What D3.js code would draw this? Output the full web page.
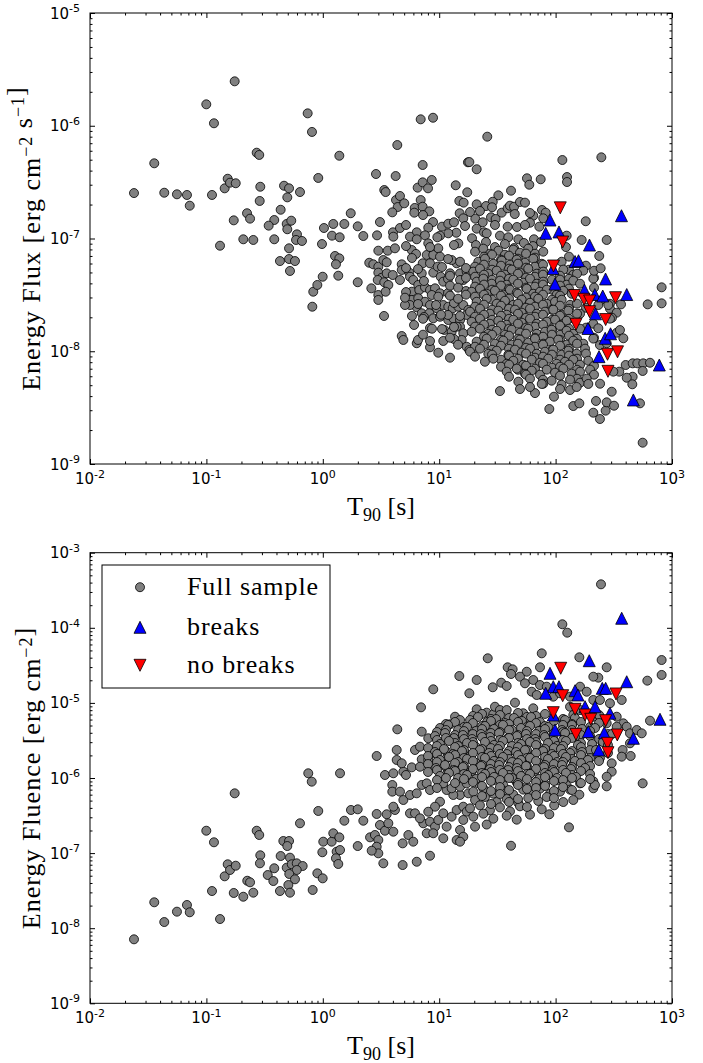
<!DOCTYPE html>
<html>
<head>
<meta charset="utf-8">
<script src="https://cdn.jsdelivr.net/npm/d3@7"></script>
<style>
  body { margin: 0; background: #fff; }
  svg { display: block; }
</style>
</head>
<body>
<svg id="chart" width="703" height="1063"></svg>
<script>
// Each point is [log10 T90 (s), log10 value].
// Energy flux (erg cm^-2 s^-1) of the full sample.
const fluxSampleLog = [
  [-1.622,-6.597],[-1.448,-6.333],[-1.362,-6.594],[-1.253,-6.608],[-1.167,-6.614],[-1.143,-6.709],[-1.001,-5.810],[-0.935,-5.978],[-0.952,-6.614],[-0.843,-6.555],[-0.817,-6.470],[-0.797,-6.505],[-0.748,-6.510],[-0.757,-5.606],[-0.765,-6.839],[-0.883,-7.064],[-0.568,-6.239],[-0.546,-6.259],[-0.537,-6.541],[-0.333,-6.532],[-0.290,-6.555],[-0.196,-6.588],[-0.305,-6.635],[-0.542,-6.667],[-0.651,-6.776],[-0.625,-6.824],[-0.362,-6.745],[-0.417,-6.836],[-0.465,-6.886],[-0.310,-6.871],[-0.271,-6.842],[-0.305,-6.918],[-0.222,-6.963],[-0.683,-7.007],[-0.597,-7.013],[-0.417,-7.007],[-0.230,-7.013],[-0.179,-7.022],[-0.368,-7.200],[-0.290,-7.182],[-0.239,-7.200],[-0.282,-7.288],[-0.290,-7.087],[-0.090,-7.605],[-0.082,-7.472],[-0.047,-7.412],[-0.130,-5.890],[-0.093,-6.055],[-0.039,-6.463],
  [0.142,-6.266],[0.640,-6.171],[0.457,-6.428],[0.626,-6.446],[0.010,-6.907],[0.090,-6.871],[0.185,-6.871],[0.240,-6.776],[0.300,-6.892],[0.079,-6.975],[0.145,-6.989],[0.348,-6.978],[0.466,-6.972],[0.528,-6.570],[0.540,-6.588],[0.629,-6.659],[0.663,-6.623],[0.643,-6.721],[0.597,-6.768],[0.603,-6.945],[0.606,-6.984],[-0.007,-7.049],[0.105,-7.155],[0.142,-7.176],[0.113,-7.229],[0.133,-7.330],[-0.001,-7.339],[0.300,-7.388],[0.417,-7.442],[0.399,-7.215],[0.434,-7.229],[0.477,-7.250],[0.520,-7.191],[0.549,-7.211],[0.477,-7.108],[0.558,-7.108],[0.620,-7.087],[0.477,-7.303],[0.506,-7.348],[0.549,-7.309],[0.601,-7.324],[0.472,-7.368],[0.528,-7.388],[0.563,-7.412],[0.477,-7.501],[0.477,-7.545],[0.540,-7.472],[0.526,-7.687],[0.700,-6.688],[0.491,-6.854],
  [0.841,-5.943],[0.947,-5.929],[0.858,-6.348],[1.247,-6.324],[0.663,-6.907],[0.715,-6.880],[0.815,-6.549],[0.858,-6.502],[0.904,-6.555],[0.936,-6.481],[0.841,-6.659],[0.790,-6.729],[0.858,-6.718],[0.915,-6.759],[0.861,-6.792],[0.786,-6.771],[0.947,-6.854],[0.906,-6.904],[0.807,-6.945],[0.878,-6.972],[1.024,-6.895],[1.078,-6.869],[1.127,-6.856],[1.176,-6.776],[1.207,-6.821],[1.147,-6.949],[1.078,-6.954],[1.007,-6.975],[1.142,-6.528],[1.241,-6.590],[1.173,-6.667],[1.210,-6.682],[0.678,-7.229],[0.678,-7.279],[0.743,-7.303],[0.749,-7.339],[0.777,-7.368],[0.820,-7.412],[0.850,-7.309],[0.858,-7.220],[0.749,-6.984],[0.807,-7.007],[0.906,-7.043],[0.984,-6.989],[0.764,-7.102],[0.801,-7.137],[0.893,-7.146],[0.949,-7.146],[0.992,-7.087],[1.007,-7.161],[0.921,-7.220],[0.949,-7.303],[0.987,-7.250],[1.013,-7.339],[1.035,-7.383],[1.093,-7.309],[1.150,-7.220],[1.107,-7.191],[1.179,-7.206],[1.179,-7.309],[1.207,-7.368],[1.236,-7.294],[1.164,-7.043],[0.764,-7.472],[0.829,-7.457],[0.878,-7.433],[0.921,-7.457],[0.964,-7.442],[1.007,-7.486],[0.936,-7.501],[0.992,-7.516],[0.764,-7.545],[0.820,-7.530],[0.878,-7.561],[0.807,-7.610],[0.749,-7.590],[0.850,-7.663],[0.921,-7.590],[0.979,-7.619],[1.035,-7.590],[1.078,-7.605],[1.116,-7.619],[1.164,-7.605],[1.207,-7.590],[1.250,-7.634],[0.706,-7.590],[0.915,-7.663],[0.949,-7.708],[1.007,-7.694],[1.078,-7.723],[1.121,-7.708],[1.179,-7.723],[1.236,-7.678],[0.784,-7.767],[0.678,-7.865],[0.692,-7.900],[0.807,-7.929],[0.921,-7.965],[0.992,-8.013],[1.044,-7.811],[1.035,-7.909],[1.107,-7.827],[1.179,-7.782],[1.207,-7.841],[1.193,-7.900],[1.236,-7.960],[1.259,-7.989],[1.150,-7.782],
  [0.715,-7.067],[0.921,-7.076],[1.127,-7.058],[0.766,-7.173],[1.076,-7.182],[0.715,-7.262],[0.818,-7.271],[1.024,-7.253],[1.230,-7.262],[0.663,-7.368],[0.869,-7.377],[1.076,-7.359],[1.179,-7.368],[0.715,-7.475],[1.076,-7.484],[1.230,-7.466],[0.818,-7.581],[0.973,-7.590],[1.127,-7.572],[0.766,-7.687],[0.869,-7.696],[1.076,-7.678],[1.179,-7.687],[0.921,-7.794],[1.024,-7.803],[1.127,-7.785],[0.818,-7.900],[0.921,-7.909],[1.127,-7.891],
  [1.413,-6.097],[1.259,-6.322],[1.322,-6.386],[2.058,-6.304],[2.393,-6.280],[1.754,-6.466],[1.774,-6.523],[1.872,-6.475],[2.098,-6.455],[2.098,-6.499],[1.617,-6.576],[1.508,-6.617],[1.322,-6.697],[1.460,-6.674],[1.402,-6.712],[1.454,-6.723],[1.537,-6.771],[1.588,-6.732],[1.608,-6.709],[1.643,-6.718],[1.694,-6.676],[1.737,-6.682],[1.649,-6.783],[1.310,-6.824],[1.374,-6.856],[1.445,-6.812],[1.485,-6.827],[1.322,-6.913],[1.385,-6.945],[1.588,-6.895],[1.522,-6.975],[1.408,-6.954],[1.282,-6.998],[1.594,-6.989],[1.680,-7.007],[1.808,-6.798],[1.780,-6.860],[1.860,-6.895],[1.883,-6.747],[1.915,-6.771],[1.894,-6.821],[1.814,-7.007],[2.259,-6.847],[2.095,-6.975],[2.224,-7.013],[2.439,-7.013],
  [1.265,-6.765],[1.350,-6.756],[1.780,-6.774],[1.222,-6.889],[1.479,-6.880],[1.668,-6.898],[1.737,-6.880],
  [1.316,-7.058],[1.402,-7.031],[1.479,-7.076],[1.565,-7.049],[1.643,-7.085],[1.728,-7.040],[1.806,-7.067],[1.875,-7.031],[2.089,-7.076],
  [1.308,-7.117],[1.379,-7.090],[1.436,-7.135],[1.508,-7.108],[1.565,-7.144],[1.637,-7.099],[1.694,-7.126],[1.765,-7.090],[1.823,-7.135],[1.894,-7.117],
  [1.385,-7.161],[1.454,-7.143],[1.531,-7.188],[1.600,-7.152],[1.677,-7.179],[1.746,-7.134],[1.823,-7.170],[2.115,-7.161],
  [1.336,-7.206],[1.393,-7.179],[1.465,-7.224],[1.537,-7.197],[1.608,-7.233],[1.666,-7.188],[1.737,-7.215],[1.808,-7.179],[1.881,-7.224],[2.052,-7.206],
  [1.308,-7.250],[1.385,-7.232],[1.454,-7.277],[1.531,-7.241],[1.600,-7.268],[1.677,-7.223],[1.746,-7.259],[1.823,-7.250],[1.892,-7.232],[2.115,-7.277],[2.261,-7.241],
  [1.293,-7.294],[1.350,-7.267],[1.422,-7.312],[1.494,-7.285],[1.565,-7.321],[1.623,-7.276],[1.694,-7.303],[1.765,-7.267],[1.838,-7.312],[1.894,-7.294],[2.066,-7.276],[2.152,-7.321],[2.238,-7.285],
  [1.308,-7.339],[1.385,-7.321],[1.454,-7.366],[1.531,-7.330],[1.600,-7.357],[1.677,-7.312],[1.746,-7.348],[1.823,-7.339],[1.892,-7.321],[1.969,-7.366],[2.038,-7.330],[2.115,-7.357],[2.184,-7.312],[2.330,-7.348],[1.093,-7.330],[1.230,-7.348],
  [1.322,-7.383],[1.379,-7.356],[1.451,-7.401],[1.522,-7.374],[1.580,-7.410],[1.637,-7.365],[1.722,-7.392],[1.780,-7.356],[1.838,-7.401],[1.894,-7.383],[2.038,-7.365],[2.095,-7.410],[2.152,-7.374],[2.210,-7.401],[2.324,-7.356],
  [1.308,-7.427],[1.385,-7.409],[1.454,-7.454],[1.531,-7.418],[1.600,-7.445],[1.677,-7.400],[1.746,-7.436],[1.823,-7.427],[1.892,-7.409],[1.969,-7.454],[2.038,-7.418],[2.115,-7.445],[2.330,-7.436],[1.093,-7.418],[1.162,-7.436],
  [1.279,-7.472],[1.350,-7.445],[1.408,-7.490],[1.479,-7.463],[1.551,-7.499],[1.608,-7.454],[1.666,-7.481],[1.752,-7.445],[1.808,-7.490],[1.866,-7.472],[1.924,-7.454],[2.009,-7.499],[2.066,-7.463],[2.138,-7.490],
  [1.308,-7.516],[1.385,-7.498],[1.454,-7.543],[1.531,-7.507],[1.600,-7.534],[1.677,-7.489],[1.746,-7.525],[1.823,-7.516],[1.892,-7.498],[1.969,-7.543],[2.038,-7.507],[0.706,-7.525],[1.093,-7.507],[1.162,-7.534],[1.230,-7.498],
  [1.322,-7.561],[1.408,-7.534],[1.494,-7.579],[1.565,-7.552],[1.637,-7.588],[1.709,-7.543],[1.780,-7.570],[1.851,-7.534],[1.924,-7.579],[1.995,-7.561],[2.052,-7.543],[2.124,-7.588],[2.382,-7.552],[2.467,-7.579],
  [1.308,-7.605],[1.385,-7.587],[1.454,-7.632],[1.531,-7.596],[1.600,-7.623],[1.677,-7.578],[1.746,-7.614],[1.823,-7.605],[1.892,-7.587],[1.969,-7.632],[2.038,-7.596],[2.115,-7.623],[2.184,-7.578],[2.261,-7.614],
  [1.265,-7.649],[1.350,-7.622],[1.436,-7.667],[1.508,-7.640],[1.580,-7.676],[1.651,-7.631],[1.709,-7.658],[1.780,-7.622],[1.838,-7.667],[1.909,-7.649],[1.980,-7.631],[2.052,-7.676],[2.109,-7.640],[2.210,-7.667],[2.467,-7.622],[2.525,-7.658],
  [1.308,-7.694],[1.385,-7.676],[1.454,-7.721],[1.531,-7.685],[1.600,-7.712],[1.677,-7.667],[1.746,-7.703],[1.823,-7.694],[1.892,-7.676],[1.969,-7.721],[2.038,-7.685],[2.115,-7.712],[2.184,-7.667],[2.484,-7.703],[0.861,-7.712],[1.015,-7.676],
  [1.279,-7.738],[1.350,-7.711],[1.436,-7.756],[1.508,-7.729],[1.580,-7.765],[1.637,-7.720],[1.709,-7.747],[1.780,-7.711],[1.838,-7.756],[1.924,-7.738],[1.995,-7.720],[2.052,-7.765],[2.095,-7.729],[2.324,-7.756],[2.467,-7.711],
  [1.308,-7.782],[1.385,-7.764],[1.454,-7.809],[1.531,-7.773],[1.600,-7.800],[1.677,-7.755],[1.746,-7.791],[1.823,-7.782],[1.892,-7.764],[1.969,-7.809],[2.038,-7.773],[2.115,-7.800],[2.261,-7.791],[0.938,-7.800],
  [1.279,-7.827],[1.350,-7.800],[1.422,-7.845],[1.494,-7.818],[1.565,-7.854],[1.623,-7.809],[1.694,-7.836],[1.765,-7.800],[1.838,-7.845],[1.909,-7.827],[1.966,-7.809],[2.038,-7.854],[2.095,-7.818],[2.152,-7.845],[2.210,-7.800],[2.525,-7.836],
  [1.385,-7.871],[1.454,-7.853],[1.531,-7.898],[1.600,-7.862],[1.677,-7.889],[1.746,-7.844],[1.823,-7.880],[1.892,-7.871],[1.969,-7.853],[2.038,-7.898],[2.115,-7.862],[2.184,-7.889],[2.330,-7.880],[0.861,-7.853],[1.093,-7.880],
  [1.322,-7.915],[1.408,-7.888],[1.479,-7.933],[1.551,-7.906],[1.623,-7.942],[1.694,-7.897],[1.765,-7.924],[1.823,-7.888],[1.894,-7.933],[1.952,-7.915],[2.023,-7.897],[2.095,-7.942],[2.152,-7.906],[2.238,-7.933],[2.324,-7.888],
  [1.308,-7.960],[1.385,-7.942],[1.454,-7.987],[1.531,-7.951],[1.600,-7.978],[1.677,-7.933],[1.746,-7.969],[1.823,-7.960],[1.892,-7.942],[1.969,-7.987],[2.038,-7.951],[2.115,-7.978],[2.184,-7.933],[1.162,-7.942],
  [1.265,-8.004],[1.350,-7.977],[1.422,-8.022],[1.494,-7.995],[1.594,-8.031],[1.651,-7.986],[1.709,-8.013],[1.780,-7.977],[1.838,-8.022],[1.909,-8.004],[1.980,-7.986],[2.052,-8.031],[2.109,-7.995],[2.181,-8.022],[2.253,-7.977],
  [1.308,-8.048],[1.454,-8.030],[1.531,-8.075],[1.600,-8.039],[1.677,-8.066],[1.746,-8.021],[1.823,-8.057],[1.892,-8.048],[1.969,-8.030],[2.038,-8.075],[2.115,-8.039],[2.184,-8.066],[2.261,-8.021],[1.093,-8.057],
  [1.393,-8.093],[1.465,-8.066],[1.580,-8.111],[1.637,-8.084],[1.722,-8.120],[1.795,-8.075],[1.866,-8.102],[1.937,-8.066],[2.009,-8.111],[2.081,-8.093],[2.152,-8.075],[2.210,-8.120],[2.281,-8.084],
  [1.531,-8.137],[1.600,-8.119],[1.677,-8.164],[1.746,-8.128],[1.823,-8.155],[1.892,-8.110],[1.969,-8.146],[2.038,-8.137],[2.115,-8.119],[2.184,-8.164],[2.330,-8.128],
  [1.580,-8.181],[1.666,-8.154],[1.737,-8.199],[1.795,-8.172],[1.866,-8.208],[1.924,-8.163],[1.995,-8.190],[2.066,-8.154],[2.138,-8.199],[2.210,-8.181],[2.296,-8.163],
  [1.600,-8.226],[1.746,-8.208],[1.892,-8.253],[2.038,-8.217],[2.184,-8.244],[2.330,-8.208],
  [1.680,-8.270],[1.780,-8.243],[1.894,-8.288],[1.966,-8.261],[2.052,-8.297],[2.124,-8.252],[2.210,-8.279],[2.267,-8.243],[2.382,-8.288],
  [1.522,-8.353],[1.694,-8.335],[1.823,-8.371],
  [2.375,-7.155],[2.330,-7.286],[2.387,-7.264],[2.562,-7.584],[2.553,-7.812],[2.582,-7.885],[2.791,-7.584],[2.911,-7.575],[2.911,-7.433],[2.367,-7.796],[2.453,-7.590],[2.367,-7.590],[2.381,-7.945],[2.439,-7.929],[2.662,-8.226],[2.611,-8.235],[2.547,-8.181],[2.602,-8.122],[2.662,-8.107],[2.702,-8.107],[2.753,-8.107],[2.811,-8.102],[2.748,-8.175],[2.496,-8.181],[2.748,-8.811],[1.946,-8.512],[1.986,-8.403],[2.152,-8.486],[2.204,-8.462],[2.324,-8.545],[2.381,-8.601],[2.430,-8.527],[2.347,-8.441],[2.439,-8.453],[2.502,-8.483],[2.482,-8.359],[2.659,-8.293],[2.725,-8.462],[2.038,-8.335],[2.124,-8.344],[1.881,-8.290],[1.780,-8.317],[2.181,-8.317],[2.281,-8.290]
];
// Energy flux of the bursts whose light curves show breaks.
const fluxBreaksLog = [
  [1.952,-6.836],[1.915,-6.954],[2.029,-6.942],[2.566,-6.798],[2.291,-7.058],[2.167,-7.204],[2.197,-7.197],[1.978,-7.266],[1.995,-7.404],[2.429,-7.359],[2.248,-7.457],[2.337,-7.497],[2.405,-7.510],[2.611,-7.497],[2.343,-7.668],[2.278,-7.798],[2.426,-7.885],[2.472,-7.845],[2.373,-8.048],[2.891,-8.122],[2.668,-8.432]
];
// Energy flux of the bursts without breaks.
const fluxNoBreaksLog = [
  [2.040,-6.728],[2.061,-7.031],[1.982,-7.244],[2.162,-7.506],[2.244,-7.539],[2.292,-7.554],[2.515,-7.525],[2.292,-7.649],[2.430,-7.719],[2.175,-7.761],[2.446,-8.027],[2.532,-8.005],[2.450,-8.178]
];

// Energy fluence (erg cm^-2) of the full sample.
const fluenceSampleLog = [
  [-1.622,-8.148],[-1.448,-7.655],[-1.362,-7.918],[-1.253,-7.780],[-1.167,-7.691],[-1.143,-7.788],[-1.001,-6.702],[-0.935,-6.856],[-0.952,-7.505],[-0.883,-7.878],[-0.843,-7.309],[-0.817,-7.149],[-0.797,-7.225],[-0.748,-7.168],[-0.757,-6.204],[-0.765,-7.531],
  [-0.095,-6.049],[-0.039,-6.439],[-0.196,-6.603],[-0.568,-6.702],[-0.546,-6.759],[-0.537,-7.029],[-0.540,-7.136],[-0.339,-6.839],[-0.290,-6.839],[-0.305,-6.906],[-0.362,-7.039],[-0.282,-7.061],[-0.417,-7.202],[-0.473,-7.292],[-0.425,-7.372],[-0.310,-7.194],[-0.267,-7.149],[-0.224,-7.136],[-0.173,-7.172],[-0.224,-7.225],[-0.288,-7.278],[-0.239,-7.349],[-0.296,-7.425],[-0.368,-7.505],[-0.282,-7.527],[-0.649,-7.368],[-0.625,-7.389],[-0.683,-7.581],[-0.597,-7.527],[-0.087,-7.491],[-0.047,-7.269],[-0.001,-7.336],[-0.004,-6.989],[0.004,-6.848],[0.076,-6.848],[0.090,-6.736],[0.142,-6.790],[0.119,-6.981],[0.148,-6.959],[0.113,-7.069],[0.133,-7.145],[0.185,-6.569],[0.242,-6.426],[0.300,-6.417],[0.348,-6.569],[0.300,-6.906],[0.406,-6.790],[0.448,-6.759],[0.477,-6.826],[0.463,-6.915],[0.477,-7.003],[0.420,-6.968],[0.520,-7.136],[0.463,-6.479],[0.549,-6.483],[0.491,-6.626],[0.534,-6.702],[0.606,-6.715],[0.563,-6.603],[0.620,-6.426],[0.606,-6.382],[0.597,-6.093],[0.597,-6.182],[0.663,-6.182],[0.692,-6.293],[0.749,-6.226],[0.807,-6.204],[0.850,-6.093],[0.893,-6.071],[0.921,-6.160],[0.686,-6.870],[0.686,-7.159],[0.749,-6.470],[0.792,-6.470],[0.735,-6.759],[0.777,-6.848],[0.807,-7.115],[0.921,-7.035],[0.863,-6.603],[0.921,-6.582],[0.964,-6.648],[0.992,-6.559],[1.035,-6.470],[1.007,-6.316],[0.964,-6.382],[0.906,-6.449],[0.835,-6.537],[0.893,-6.736],[0.949,-6.736],[1.035,-6.803],[1.064,-6.648],[1.107,-6.515],[1.150,-6.426],[1.207,-6.382],[1.179,-6.226],[1.121,-6.226],[1.064,-6.160],[1.035,-6.071],[1.107,-6.137],[1.179,-6.116],[1.236,-6.071],[1.250,-6.204],[1.236,-6.449],[1.207,-6.559],[1.179,-6.692],[1.150,-6.826],[1.207,-6.782],
  [1.336,-6.071],[1.465,-6.031],[1.551,-6.098],[1.666,-6.058],[1.752,-6.111],[1.838,-6.044],[1.909,-6.084],[2.009,-6.031],[2.095,-6.098],[2.210,-6.071],[2.324,-6.044],[2.439,-6.111],
  [1.293,-6.182],[1.379,-6.142],[1.465,-6.209],[1.551,-6.169],[1.637,-6.222],[1.722,-6.155],[1.795,-6.195],[1.866,-6.142],[1.952,-6.209],[2.038,-6.182],[2.124,-6.155],[2.204,-6.222],
  [1.308,-6.293],[1.393,-6.253],[1.494,-6.320],[1.580,-6.280],[1.680,-6.333],[1.765,-6.266],[1.851,-6.306],[1.924,-6.253],[2.066,-6.320],[2.152,-6.293],
  [1.265,-6.404],[1.350,-6.364],[1.436,-6.431],[1.522,-6.391],[1.608,-6.444],[1.694,-6.377],[1.881,-6.417],[1.988,-6.364],
  [1.293,-6.515],[1.379,-6.475],[1.465,-6.542],[1.580,-6.502],[1.666,-6.555],[1.780,-6.488],
  [1.308,-6.648],[1.408,-6.620],[1.179,-6.848],[1.617,-6.902],[2.115,-6.657],[2.748,-6.071],[1.946,-6.483],[2.324,-6.137],
  [2.390,-3.421],[2.058,-3.953],[2.100,-4.065],[1.881,-4.340],[2.204,-4.393],[1.417,-4.406],[2.439,-4.526],[2.911,-4.429],[2.911,-4.628],[2.788,-4.704],[2.367,-4.664],[2.568,-4.961],[2.811,-5.237],[0.949,-4.819],[1.173,-4.642],[1.322,-4.695],[1.259,-4.872],[1.460,-4.792],[1.533,-4.731],[1.580,-4.775],[1.588,-4.526],[1.631,-4.553],[1.617,-4.615],[1.752,-4.585],[1.694,-4.651],[1.737,-4.739],[1.866,-4.526],[1.808,-4.695],[1.866,-4.762],[1.795,-4.851],[1.838,-4.895],[0.844,-5.059],[1.322,-5.085],[1.408,-5.130],[1.465,-5.152],[1.479,-5.051],[1.522,-5.095],[1.580,-5.095],[1.651,-4.997],[1.722,-5.138],[1.808,-5.072],[0.640,-5.352],[1.136,-5.184],[1.179,-5.228],[1.093,-5.285],[0.850,-5.383],[0.906,-5.471],[0.792,-5.627],[0.835,-5.583],[0.635,-5.627],[0.463,-5.707],[0.148,-5.937],[0.534,-5.960],[0.606,-5.937],[0.692,-5.916],[0.635,-5.760],[0.678,-5.804],[0.715,-5.960],[0.764,-5.858],[0.850,-5.751],[0.906,-5.760],[0.949,-5.671],[0.835,-5.850],[-0.125,-5.937],
  [1.924,-4.784],[1.980,-4.917],[2.038,-4.872],[2.124,-4.917],[2.210,-4.784],[2.324,-4.651],[2.267,-4.851],[2.324,-4.961],[2.381,-4.961],[2.467,-5.005],[2.525,-5.184],[2.582,-5.272],[2.124,-5.051],[2.152,-5.161],[2.210,-5.095],[2.324,-5.184],[2.381,-5.184],[2.439,-5.272],[2.525,-5.317],[2.611,-5.317],[2.639,-5.405],[2.697,-5.361],[2.740,-5.405],[2.639,-5.538],[2.576,-5.627],[2.568,-5.716],[2.645,-5.707],[2.482,-5.804],[2.482,-5.916],[2.439,-5.983],[2.338,-6.093],
  [1.290,-5.174],[1.368,-5.147],[1.445,-5.214],[1.522,-5.161],[1.600,-5.201],[1.677,-5.134],[1.754,-5.187],[1.832,-5.174],[1.909,-5.147],[2.064,-5.214],[2.373,-5.161],
  [1.265,-5.228],[1.333,-5.188],[1.411,-5.255],[1.488,-5.215],[1.565,-5.268],[1.643,-5.201],[1.711,-5.241],[1.789,-5.188],[1.866,-5.255],[2.081,-5.228],[2.166,-5.201],
  [1.058,-5.281],[1.136,-5.254],[1.213,-5.321],[1.290,-5.268],[1.368,-5.308],[1.445,-5.241],[1.522,-5.294],[1.600,-5.281],[1.677,-5.254],[1.754,-5.321],[1.832,-5.268],[1.909,-5.308],[1.986,-5.241],[2.064,-5.294],[2.141,-5.281],[2.218,-5.254],[2.296,-5.321],[2.373,-5.268],
  [1.007,-5.334],[1.076,-5.294],[1.162,-5.361],[1.239,-5.321],[1.316,-5.374],[1.393,-5.307],[1.471,-5.347],[1.548,-5.294],[1.625,-5.361],[1.703,-5.334],[1.780,-5.307],[1.857,-5.374],[1.935,-5.321],[2.055,-5.361],[2.141,-5.294],[2.227,-5.347],[2.339,-5.334],
  [0.981,-5.388],[1.058,-5.361],[1.136,-5.428],[1.213,-5.375],[1.290,-5.415],[1.368,-5.348],[1.445,-5.401],[1.522,-5.388],[1.600,-5.361],[1.677,-5.428],[1.754,-5.375],[1.832,-5.415],[1.909,-5.348],[1.986,-5.401],[2.064,-5.388],[2.141,-5.361],[2.218,-5.428],[2.296,-5.375],[2.450,-5.415],
  [0.964,-5.441],[1.050,-5.401],[1.127,-5.468],[1.204,-5.428],[1.282,-5.481],[1.359,-5.414],[1.436,-5.454],[1.514,-5.401],[1.591,-5.468],[1.668,-5.441],[1.746,-5.414],[1.823,-5.481],[1.900,-5.428],[1.978,-5.468],[2.081,-5.401],[2.166,-5.454],[2.296,-5.441],[2.484,-5.414],
  [0.981,-5.494],[1.058,-5.467],[1.136,-5.534],[1.213,-5.481],[1.290,-5.521],[1.368,-5.454],[1.445,-5.507],[1.522,-5.494],[1.600,-5.467],[1.677,-5.534],[1.754,-5.481],[1.832,-5.521],[1.909,-5.454],[1.986,-5.507],[2.064,-5.494],[2.141,-5.467],[2.218,-5.534],[2.373,-5.481],
  [1.007,-5.547],[1.084,-5.507],[1.162,-5.574],[1.239,-5.534],[1.316,-5.587],[1.393,-5.520],[1.471,-5.560],[1.548,-5.507],[1.625,-5.574],[1.703,-5.547],[1.780,-5.520],[1.857,-5.587],[1.935,-5.534],[2.012,-5.574],[2.089,-5.507],[2.192,-5.560],[2.313,-5.547],[2.407,-5.520],
  [0.904,-5.601],[0.981,-5.574],[1.058,-5.641],[1.136,-5.588],[1.213,-5.628],[1.290,-5.561],[1.368,-5.614],[1.445,-5.601],[1.522,-5.574],[1.600,-5.641],[1.677,-5.588],[1.754,-5.628],[1.832,-5.561],[1.909,-5.614],[1.986,-5.601],[2.064,-5.574],[2.141,-5.641],[2.218,-5.588],[2.296,-5.628],[2.450,-5.561],
  [0.964,-5.654],[1.041,-5.614],[1.119,-5.681],[1.196,-5.641],[1.273,-5.694],[1.350,-5.627],[1.428,-5.667],[1.505,-5.614],[1.582,-5.681],[1.660,-5.654],[1.737,-5.627],[1.814,-5.694],[1.892,-5.641],[1.969,-5.681],[2.046,-5.614],[2.124,-5.667],[2.227,-5.654],[2.347,-5.627],
  [0.904,-5.707],[0.981,-5.680],[1.058,-5.747],[1.136,-5.694],[1.213,-5.734],[1.290,-5.667],[1.368,-5.720],[1.445,-5.707],[1.522,-5.680],[1.600,-5.747],[1.677,-5.694],[1.754,-5.734],[1.832,-5.667],[1.909,-5.720],[1.986,-5.707],[2.064,-5.680],[2.141,-5.747],[2.218,-5.694],[2.296,-5.734],[2.450,-5.667],
  [1.007,-5.760],[1.084,-5.720],[1.162,-5.787],[1.239,-5.747],[1.316,-5.800],[1.393,-5.733],[1.471,-5.773],[1.548,-5.720],[1.625,-5.787],[1.703,-5.760],[1.780,-5.733],[1.857,-5.800],[1.935,-5.747],[2.012,-5.787],[2.089,-5.720],[2.166,-5.773],[2.278,-5.760],[2.381,-5.733],
  [0.904,-5.814],[0.981,-5.787],[1.058,-5.854],[1.136,-5.801],[1.213,-5.841],[1.290,-5.774],[1.368,-5.827],[1.445,-5.814],[1.522,-5.787],[1.600,-5.854],[1.677,-5.801],[1.754,-5.841],[1.832,-5.774],[1.909,-5.827],[1.986,-5.814],[2.064,-5.787],[2.141,-5.854],[2.218,-5.801],[2.296,-5.841],[2.373,-5.774],
  [0.973,-5.867],[1.050,-5.827],[1.127,-5.894],[1.204,-5.854],[1.282,-5.907],[1.359,-5.840],[1.436,-5.880],[1.514,-5.827],[1.591,-5.894],[1.668,-5.867],[1.746,-5.840],[1.823,-5.907],[1.900,-5.854],[1.978,-5.894],[2.055,-5.827],[2.132,-5.880],[2.253,-5.867],
  [0.904,-5.920],[0.981,-5.893],[1.058,-5.960],[1.136,-5.907],[1.213,-5.947],[1.290,-5.880],[1.368,-5.933],[1.445,-5.920],[1.522,-5.893],[1.600,-5.960],[1.677,-5.907],[1.754,-5.947],[1.832,-5.880],[1.909,-5.933],[1.986,-5.920],[2.064,-5.893],[2.141,-5.960],[2.218,-5.907],[2.296,-5.947],
  [1.007,-5.973],[1.084,-5.933],[1.162,-6.000],[1.239,-5.960],[1.316,-6.013],[1.393,-5.946],[1.471,-5.986],[1.548,-5.933],[1.625,-6.000],[1.703,-5.973],[1.780,-5.946],[1.857,-6.013],[1.935,-5.960],[2.012,-6.000],[2.089,-5.933],[2.175,-5.986],
  [0.981,-6.027],[1.058,-6.000],[1.136,-6.067],[1.213,-6.014],[1.290,-6.054],[1.368,-5.987],[1.445,-6.040],[1.522,-6.027],[1.600,-6.000],[1.677,-6.067],[1.754,-6.014],[1.832,-6.054],[1.909,-5.987],[1.986,-6.040],[2.064,-6.027],[2.141,-6.000],[2.218,-6.067],[2.296,-6.014],
  [0.981,-6.133],[1.368,-6.106],[1.445,-6.173],[1.522,-6.120],[1.600,-6.160],[1.677,-6.093],[1.754,-6.146],[1.832,-6.133],[1.909,-6.106],[1.986,-6.173],[2.064,-6.120],[2.141,-6.160],
  [1.368,-6.240],[1.522,-6.213],[1.677,-6.280],[1.832,-6.227],[1.986,-6.267],
  [1.445,-6.346],[1.600,-6.319],[1.754,-6.386]
];
// Energy fluence of the bursts with breaks.
const fluenceBreaksLog = [
  [2.568,-3.873],[2.289,-4.438],[1.952,-4.606],[2.611,-4.718],[1.980,-4.784],[2.029,-4.784],[1.915,-4.872],[2.167,-4.838],[2.192,-4.895],[2.401,-4.806],[2.430,-4.806],[2.253,-5.051],[2.339,-5.051],[1.980,-5.161],[2.467,-5.138],[2.897,-5.218],[1.995,-5.361],[2.281,-5.383],[2.418,-5.397],[2.668,-5.471],[2.370,-5.627]
];
// Energy fluence of the bursts without breaks.
const fluenceNoBreaksLog = [
  [2.044,-4.539],[2.061,-4.904],[2.519,-4.881],[1.980,-5.130],[2.167,-5.085],[2.253,-5.161],[2.302,-5.218],[2.430,-5.237],[2.175,-5.418],[2.530,-5.427],[2.446,-5.538],[2.450,-5.663]
];

// Decade exponents that carry tick labels.
const xTickExps = [-2, -1, 0, 1, 2, 3];
const fluxTickExps = [-9, -8, -7, -6, -5];
const fluenceTickExps = [-9, -8, -7, -6, -5, -4, -3];
const legendLabels = ["Full sample", "breaks", "no breaks"];

const svg = d3.select("#chart");
const LEFT = 90, RIGHT = 672;
const x = d3.scaleLog().domain([1e-2, 1e3]).range([LEFT, RIGHT]);

const isDecade = v => Math.abs(Math.log10(v) - Math.round(Math.log10(v))) < 1e-9;

// matplotlib-style triangle markers (apex up or down, centred on the bounding box)
const triangle = dir => ({
  draw(ctx, size) {
    const h = Math.sqrt(size) / 2;
    ctx.moveTo(0, -dir * h);
    ctx.lineTo(h, dir * h);
    ctx.lineTo(-h, dir * h);
    ctx.closePath();
  }
});
const upTri = d3.symbol(triangle(1), 144);
const downTri = d3.symbol(triangle(-1), 144);

const SERIF = "'Liberation Serif', 'DejaVu Serif', serif";
const SANS = "'DejaVu Sans', sans-serif";

function powerLabel(g, px, py, exp, anchor) {
  const t = g.append("text")
    .attr("x", px).attr("y", py)
    .attr("text-anchor", anchor)
    .style("font-family", SANS)
    .style("font-size", "15px")
    .attr("fill", "#000");
  t.append("tspan").text("10");
  t.append("tspan").attr("dy", -6.5).style("font-size", "11px").text(String(exp));
}

function drawPanel(cfg) {
  const y = d3.scaleLog().domain(cfg.yDomain).range([cfg.bottom, cfg.top]);
  const g = svg.append("g");

  g.append("clipPath").attr("id", cfg.id + "-clip")
    .append("rect")
    .attr("x", LEFT).attr("y", cfg.top)
    .attr("width", RIGHT - LEFT).attr("height", cfg.bottom - cfg.top);

  const marks = g.append("g").attr("clip-path", `url(#${cfg.id}-clip)`);
  const pos = d => `translate(${x(10 ** d[0])},${y(10 ** d[1])})`;

  marks.append("g").selectAll("circle")
    .data(cfg.sample).join("circle")
    .attr("cx", d => x(10 ** d[0]))
    .attr("cy", d => y(10 ** d[1]))
    .attr("r", 4.5)
    .attr("fill", "#808080")
    .attr("stroke", "#000")
    .attr("stroke-width", 0.8);

  marks.append("g").selectAll("path")
    .data(cfg.breaks).join("path")
    .attr("transform", pos)
    .attr("d", upTri)
    .attr("fill", "#0000ff")
    .attr("stroke", "#000")
    .attr("stroke-width", 0.8);

  marks.append("g").selectAll("path")
    .data(cfg.noBreaks).join("path")
    .attr("transform", pos)
    .attr("d", downTri)
    .attr("fill", "#ff0000")
    .attr("stroke", "#000")
    .attr("stroke-width", 0.8);

  // inward ticks on all four sides
  const majorX = xTickExps.map(e => 10 ** e);
  const minorX = x.ticks().filter(v => !isDecade(v));
  const majorY = cfg.yExps.map(e => 10 ** e);
  const minorY = y.ticks().filter(v => !isDecade(v));

  const axes = g.append("g");
  const tickAxis = (axisFn, scale, values, len, tr) => {
    axes.append("g").attr("transform", tr)
      .call(axisFn(scale).tickValues(values).tickSize(-len).tickFormat(""))
      .call(a => a.select(".domain").remove())
      .call(a => a.selectAll("line").attr("stroke", "#000").attr("stroke-width", 1));
  };
  tickAxis(d3.axisBottom, x, majorX, 5, `translate(0,${cfg.bottom})`);
  tickAxis(d3.axisBottom, x, minorX, 2.5, `translate(0,${cfg.bottom})`);
  tickAxis(d3.axisTop, x, majorX, 5, `translate(0,${cfg.top})`);
  tickAxis(d3.axisTop, x, minorX, 2.5, `translate(0,${cfg.top})`);
  tickAxis(d3.axisLeft, y, majorY, 5, `translate(${LEFT},0)`);
  tickAxis(d3.axisLeft, y, minorY, 2.5, `translate(${LEFT},0)`);
  tickAxis(d3.axisRight, y, majorY, 5, `translate(${RIGHT},0)`);
  tickAxis(d3.axisRight, y, minorY, 2.5, `translate(${RIGHT},0)`);

  g.append("rect")
    .attr("x", LEFT).attr("y", cfg.top)
    .attr("width", RIGHT - LEFT).attr("height", cfg.bottom - cfg.top)
    .attr("fill", "none").attr("stroke", "#000").attr("stroke-width", 1);

  // tick labels
  const labels = g.append("g");
  xTickExps.forEach(e => powerLabel(labels, x(10 ** e), cfg.bottom + 20, e, "middle"));
  cfg.yExps.forEach(e => powerLabel(labels, 80, y(10 ** e) + 5.5, e, "end"));

  // x axis title: T_90 [s]
  const xt = g.append("text")
    .attr("x", (LEFT + RIGHT) / 2).attr("y", cfg.bottom + 51)
    .attr("text-anchor", "middle")
    .style("font-family", SERIF).style("font-size", "26px");
  xt.append("tspan").text("T");
  xt.append("tspan").attr("dy", 6).style("font-size", "18px").text("90");
  xt.append("tspan").attr("dy", -6).text("\u00a0[s]");

  // y axis title with superscripts
  const yt = g.append("text")
    .attr("transform", `translate(40,${(cfg.top + cfg.bottom) / 2}) rotate(-90)`)
    .attr("text-anchor", "middle")
    .style("font-family", SERIF).style("font-size", "26px")
    .style("letter-spacing", "1px");
  cfg.yTitle.forEach(part => {
    if (part.sup) {
      yt.append("tspan").attr("dy", -8).style("font-size", "18px").text(part.sup);
      yt.append("tspan").attr("dy", 8).text("");
    } else {
      yt.append("tspan").text(part.text);
    }
  });

  return y;
}

drawPanel({
  id: "flux", top: 13, bottom: 464, yDomain: [1e-9, 1e-5], yExps: fluxTickExps,
  sample: fluxSampleLog, breaks: fluxBreaksLog, noBreaks: fluxNoBreaksLog,
  yTitle: [{text: "Energy Flux [erg cm"}, {sup: "\u22122"}, {text: "\u00a0s"}, {sup: "\u22121"}, {text: "]"}]
});

drawPanel({
  id: "fluence", top: 552.7, bottom: 1003.3, yDomain: [1e-9, 1e-3], yExps: fluenceTickExps,
  sample: fluenceSampleLog, breaks: fluenceBreaksLog, noBreaks: fluenceNoBreaksLog,
  yTitle: [{text: "Energy Fluence [erg cm"}, {sup: "\u22122"}, {text: "]"}]
});

// legend in the fluence panel
const legend = svg.append("g");
legend.append("rect")
  .attr("x", 102).attr("y", 565).attr("width", 228).attr("height", 123)
  .attr("fill", "#fff").attr("stroke", "#000").attr("stroke-width", 1);
const rows = [
  {cy: 587.2, kind: "circle"},
  {cy: 627.3, kind: "up"},
  {cy: 665.3, kind: "down"}
];
rows.forEach((r, i) => {
  if (r.kind === "circle") {
    legend.append("circle").attr("cx", 140).attr("cy", r.cy).attr("r", 4.5)
      .attr("fill", "#808080").attr("stroke", "#000").attr("stroke-width", 0.8);
  } else {
    legend.append("path").attr("transform", `translate(140,${r.cy})`)
      .attr("d", r.kind === "up" ? upTri() : downTri())
      .attr("fill", r.kind === "up" ? "#0000ff" : "#ff0000")
      .attr("stroke", "#000").attr("stroke-width", 0.8);
  }
  legend.append("text")
    .attr("x", 187).attr("y", r.cy + 7.5)
    .style("font-family", SERIF).style("font-size", "26px")
    .style("letter-spacing", "0.9px")
    .text(legendLabels[i]);
});
</script>
</body>
</html>
